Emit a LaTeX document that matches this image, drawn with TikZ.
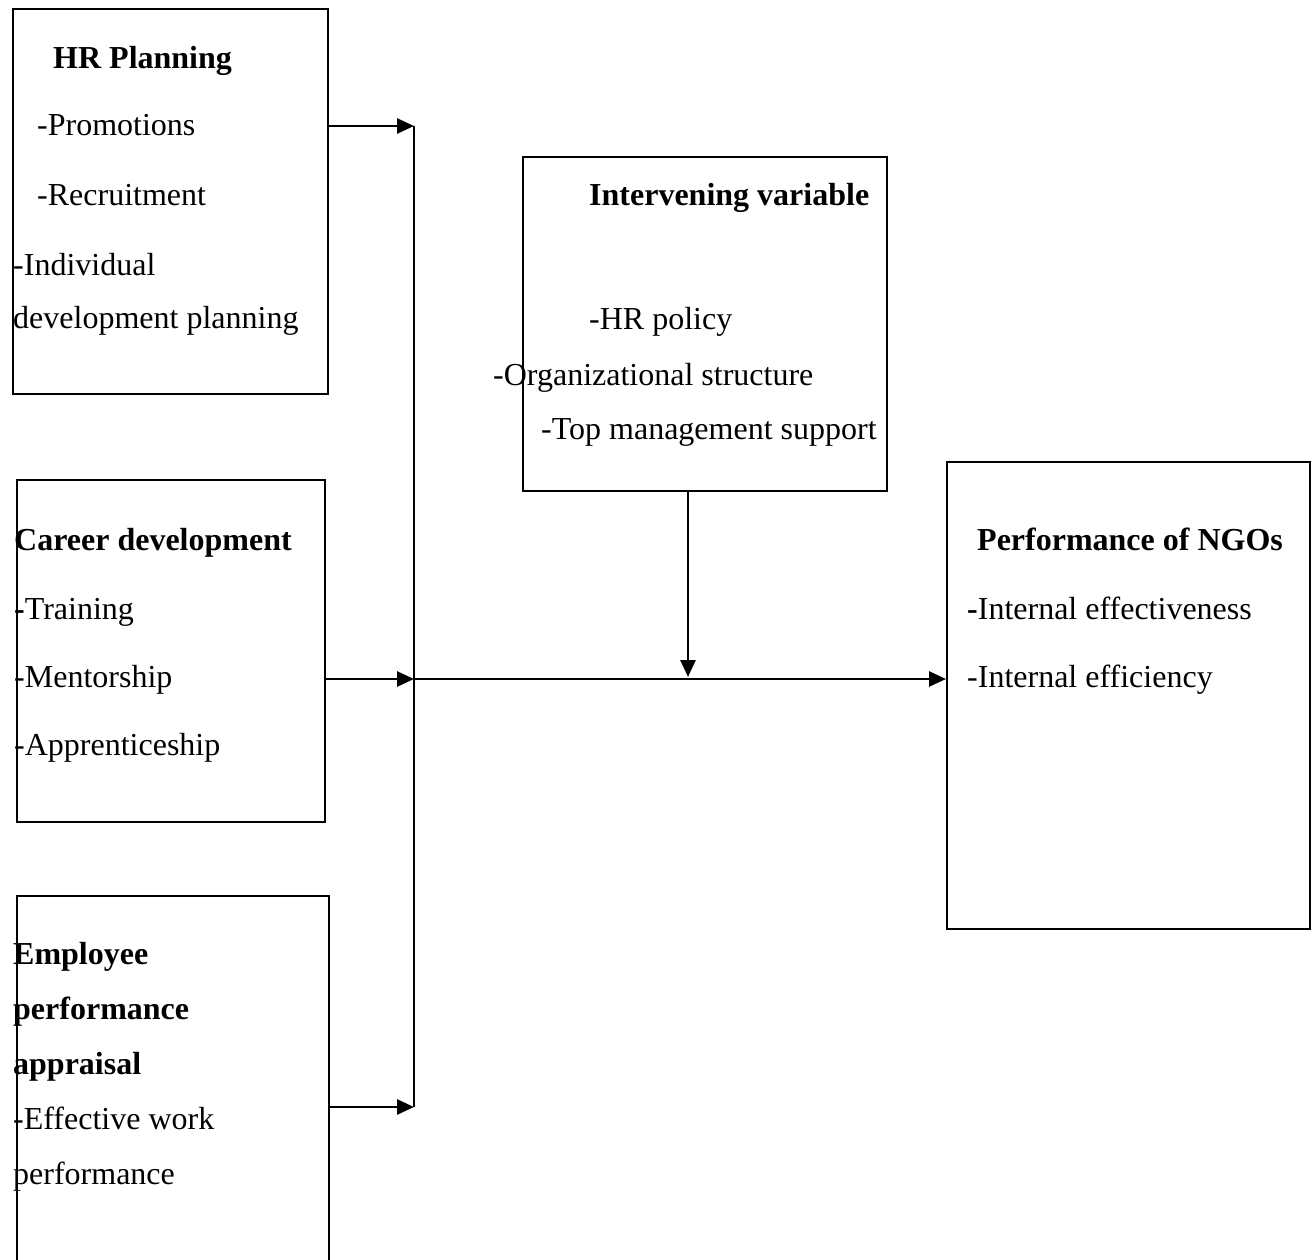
\documentclass[tikz,border=0pt]{standalone}
\usepackage{fontspec}
\setmainfont{Liberation Serif}
\usetikzlibrary{arrows.meta}

\begin{document}
\begin{tikzpicture}[x=1pt,y=-1pt,
  box/.style={draw,line width=2pt,rectangle,anchor=north west,inner sep=0pt},
  txt/.style={anchor=base west,inner sep=0pt,font=\fontsize{32}{38}\selectfont},
  hd/.style={txt,font=\fontsize{32}{38}\selectfont\bfseries},
  arr/.style={line width=2.8pt,-{Triangle[length=17pt,width=15pt]}}]
\clip (0,0) rectangle (1311,1260);
% boxes
\node[box,minimum width=315pt,minimum height=385pt] (hr) at (12,8) {};
\node[box,minimum width=308pt,minimum height=342pt] (career) at (16,479) {};
\node[box,minimum width=312pt,minimum height=420pt] (appr) at (16,895) {};
\node[box,minimum width=364pt,minimum height=334pt] (iv) at (522,156) {};
\node[box,minimum width=363pt,minimum height=467pt] (perf) at (946,461) {};
% texts
\node[hd] (hrT) at (53,69) {HR Planning};
\node[txt] (hr1) at (37,136) {-Promotions};
\node[txt] (hr2) at (37,205) {-Recruitment};
\node[txt] (hr3) at (13,275) {-Individual};
\node[txt] (hr4) at (13,328) {development planning};
\node[hd] (carT) at (14,550) {Career development};
\node[txt] (car1) at (14,619) {{\bfseries -}Training};
\node[txt] (car2) at (14,687) {-Mentorship};
\node[txt] (car3) at (14,755) {-Apprenticeship};
\node[hd] (apT1) at (13,964) {Employee};
\node[hd] (apT2) at (13,1019) {performance};
\node[hd] (apT3) at (13,1074) {appraisal};
\node[txt] (ap1) at (13,1129) {-Effective work};
\node[txt] (ap2) at (13,1184) {performance};
\node[hd] (ivT) at (589,205) {Intervening variable};
\node[txt] (iv1) at (589,329) {-HR policy};
\node[txt] (iv2) at (493,385) {-Organizational structure};
\node[txt] (iv3) at (541,439) {-Top management support};
\node[hd] (perfT) at (977,550) {Performance of NGOs};
\node[txt] (perf1) at (967,619) {{\bfseries -}Internal effectiveness};
\node[txt] (perf2) at (967,687) {-Internal efficiency};
% connectors
\coordinate (b1) at (414,126);
\coordinate (b2) at (414,679);
\coordinate (b3) at (414,1107);
\coordinate (m) at (688,677);
\draw[line width=2pt] (b1) -- (b3);
\draw[arr] (hr.east |- b1) -- (b1);
\draw[arr] (career.east |- b2) -- (b2);
\draw[arr] (appr.east |- b3) -- (b3);
\draw[arr] (b2) -- (perf.west |- b2);
\draw[arr] (iv.south -| m) -- (m);
\end{tikzpicture}
\end{document}
